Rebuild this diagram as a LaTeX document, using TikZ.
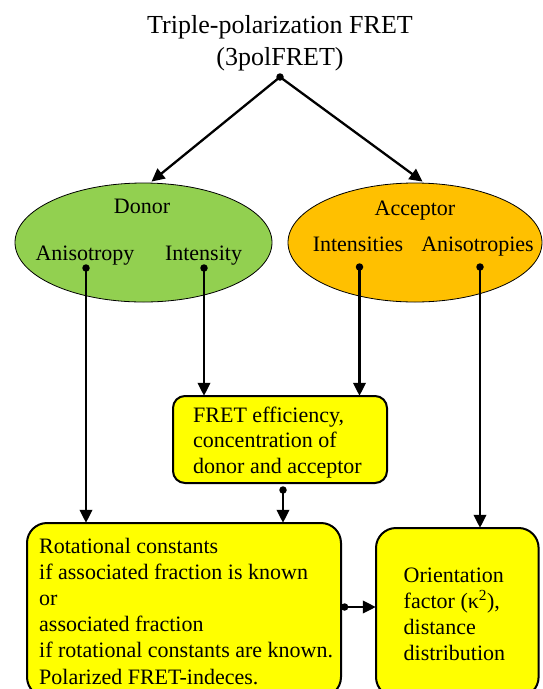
\documentclass[tikz,border=0pt]{standalone}
\usepackage{fontspec}
\setmainfont{Liberation Serif}
\usetikzlibrary{arrows.meta,shapes.geometric}
\definecolor{dgreen}{HTML}{92D050}
\definecolor{aorange}{HTML}{FFC000}
\definecolor{byellow}{HTML}{FFFF00}
\tikzset{
  oval/.style={ellipse, draw=black, line width=0.8pt, inner sep=0pt, minimum width=256pt, minimum height=119pt},
  lbl/.style={inner sep=0pt, font=\fontsize{22}{26}\selectfont},
  boxtxt/.style={inner sep=0pt, align=left, anchor=base west},
  ybox/.style={draw=black, fill=byellow, line width=2pt},
  dot/.style={circle, fill=black, inner sep=0pt, minimum size=7.5pt},
  arr/.style={line width=2.3pt, -{Triangle[length=13pt,width=12.5pt]}},
}
\begin{document}
\begin{tikzpicture}[x=1pt,y=-1pt]
\useasboundingbox (0,0) rectangle (543,689);
% title
\node[inner sep=0pt, align=center, anchor=base, font=\fontsize{26}{32}\selectfont] (title) at (280,65) {Triple-polarization FRET\\(3polFRET)};
\node[dot] (split) at (280,77) {};
% ellipses
\node[oval, fill=dgreen, minimum width=257pt] (donor) at (143.5,242.5) {};
\node[oval, fill=aorange, minimum width=254pt] (acceptor) at (415,242.5) {};
\node[lbl, anchor=base] (dtitle) at (142,213) {Donor};
\node[lbl, anchor=base] (daniso) at (85,260) {Anisotropy};
\node[lbl, anchor=base] (dint) at (203.5,260) {Intensity};
\node[lbl, anchor=base] (atitle) at (415,215) {Acceptor};
\node[lbl, anchor=base] (aint) at (358,251) {Intensities};
\node[lbl, anchor=base] (aaniso) at (477.5,251) {Anisotropies};
\draw[arr] (split.center) -- ([xshift=8pt,yshift=1pt]donor.north);
\draw[arr] (split.center) -- ([xshift=7.6pt,yshift=1pt]acceptor.north);
% boxes
\draw[ybox, rounded corners=12pt] (173,396) rectangle (387,483);
\node[inner sep=0pt, minimum width=214pt, minimum height=87pt] (fret) at (280,439.5) {};
\node[lbl, boxtxt, font=\fontsize{22}{25.5}\selectfont] (frettxt) at (193,473) {FRET efficiency,\\concentration of\\donor and acceptor};
\draw[ybox, rounded corners=20pt] (27,523) rectangle (341,697);
\node[inner sep=0pt, minimum width=314pt, minimum height=174pt] (rot) at (184,610) {};
\node[lbl, boxtxt, font=\fontsize{22}{26.2}\selectfont] (rottxt) at (39,684) {Rotational constants\\if associated fraction is known\\or\\associated fraction\\if rotational constants are known.\\Polarized FRET-indeces.};
\draw[ybox, rounded corners=20pt] (376,528) rectangle (538.6,697);
\node[inner sep=0pt, minimum width=162.6pt, minimum height=169pt] (orient) at (457.3,612.5) {};
\node[lbl, boxtxt, font=\fontsize{22}{26}\selectfont] (orienttxt) at (403.5,660) {Orientation\\factor (κ\textsuperscript{2}),\\distance\\distribution};
% dots and connectors
\node[dot] (da) at (86,268) {};
\node[dot] (di) at (204,268) {};
\node[dot] (ai) at (359.5,267) {};
\node[dot] (aa) at (480,267) {};
\node[dot] (fd) at (283,490) {};
\node[dot] (rd) at (344.6,607) {};
\draw[arr] (da.center) -- (da |- rot.north);
\draw[arr] (di.center) -- (di |- fret.north);
\draw[arr] (ai.center) -- (ai |- fret.north);
\draw[arr] (aa.center) -- (aa |- orient.north);
\draw[arr] (fd.center) -- (fd |- rot.north);
\draw[arr] (rd.center) -- (rd -| orient.west);
\end{tikzpicture}
\end{document}
